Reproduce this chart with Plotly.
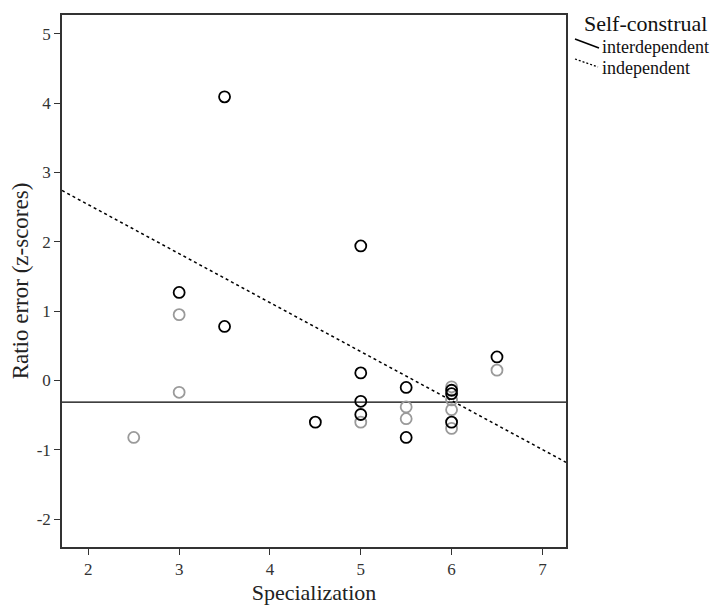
import plotly.graph_objects as go
import numpy as np

# Data
indep_x = [3.5, 5.0, 3.0, 3.5, 6.5, 5.0, 5.5, 5.0, 5.0, 4.5, 5.5, 6.0, 6.0, 6.0]
indep_y = [4.09, 1.94, 1.27, 0.78, 0.34, 0.11, -0.10, -0.30, -0.49, -0.60, -0.82, -0.14, -0.19, -0.60]

inter_x = [2.5, 3.0, 3.0, 5.0, 5.5, 5.5, 6.0, 6.0, 6.0, 6.0, 6.5]
inter_y = [-0.82, 0.95, -0.17, -0.60, -0.38, -0.55, -0.09, -0.28, -0.42, -0.69, 0.15]

# Regression lines (intercept, slope)
indep_fit = (3.947, -0.706)
inter_fit = (-0.31, 0.0)

x_range = [1.71, 7.26]
y_range = [-2.40, 5.27]
x_ticks = [2, 3, 4, 5, 6, 7]
y_ticks = [-2, -1, 0, 1, 2, 3, 4, 5]
y_ticklabels = ["-2", "-1", "0", "1", "2", "3", "4", "5"]

FONT = "Liberation Serif"

fig = go.Figure()

xl = np.array(x_range)
fig.add_trace(go.Scatter(x=xl, y=inter_fit[0] + inter_fit[1] * xl, mode="lines",
                         line=dict(color="black", width=1.3), hoverinfo="skip"))
fig.add_trace(go.Scatter(x=xl, y=indep_fit[0] + indep_fit[1] * xl, mode="lines",
                         line=dict(color="black", width=1.5, dash="3px,3px"), hoverinfo="skip"))

fig.add_trace(go.Scatter(x=inter_x, y=inter_y, mode="markers",
                         marker=dict(symbol="circle-open", size=11, color="#9a9a9a",
                                     line=dict(width=1.8, color="#9a9a9a"))))
fig.add_trace(go.Scatter(x=indep_x, y=indep_y, mode="markers",
                         marker=dict(symbol="circle-open", size=11, color="black",
                                     line=dict(width=1.8, color="black"))))

# page offset of 8px (body margin) compensated
OFF = 8
FW, FH = 720 - OFF, 606 - OFF
L, R, T, B = 62, 566, 15, 547  # target window pixels
W = R - L
H = B - T
def px(x):
    return (x - L) / W
def py(y):
    return (B - y) / H

fig.update_layout(
    width=FW, height=FH,
    margin=dict(l=L - OFF, r=FW - (R - OFF), t=T - OFF, b=FH - (B - OFF)),
    paper_bgcolor="white", plot_bgcolor="white",
    showlegend=False,
    font=dict(family=FONT, color="#222"),
    xaxis=dict(range=x_range, tickvals=x_ticks, ticks="outside", ticklen=6, tickwidth=1.3,
               tickcolor="#333", showgrid=False, zeroline=False, showline=True, mirror=True,
               linecolor="#333", linewidth=1.5, automargin=False,
               tickfont=dict(size=17, family=FONT, color="#333"),
               title=dict(text="Specialization", font=dict(size=22, family=FONT, color="#222"), standoff=6)),
    yaxis=dict(range=y_range, tickvals=y_ticks, ticktext=y_ticklabels, ticks="outside", ticklen=6,
               tickwidth=1.3, tickcolor="#333", showgrid=False, zeroline=False, showline=True,
               mirror=True, linecolor="#333", linewidth=1.5, automargin=False,
               tickfont=dict(size=17, family=FONT, color="#333"),
               title=dict(text="Ratio error (z-scores)", font=dict(size=23, family=FONT, color="#222"), standoff=4)),
)

# Legend (manual)
fig.add_annotation(x=px(582), y=py(23), xref="paper", yref="paper", text="Self-construal",
                   showarrow=False, xanchor="left", yanchor="middle",
                   font=dict(size=22, family=FONT, color="#111"))
fig.add_annotation(x=px(600), y=py(47), xref="paper", yref="paper", text="interdependent",
                   showarrow=False, xanchor="left", yanchor="middle",
                   font=dict(size=18, family=FONT, color="#111"))
fig.add_annotation(x=px(600), y=py(68), xref="paper", yref="paper", text="independent",
                   showarrow=False, xanchor="left", yanchor="middle",
                   font=dict(size=18, family=FONT, color="#111"))
fig.add_shape(type="line", xref="paper", yref="paper", x0=px(575), y0=py(39), x1=px(599), y1=py(48),
              line=dict(color="black", width=1.6))
fig.add_shape(type="line", xref="paper", yref="paper", x0=px(575), y0=py(59), x1=px(598), y1=py(67),
              line=dict(color="black", width=1.3, dash="2px,2px"))

fig.write_html("out.html")
